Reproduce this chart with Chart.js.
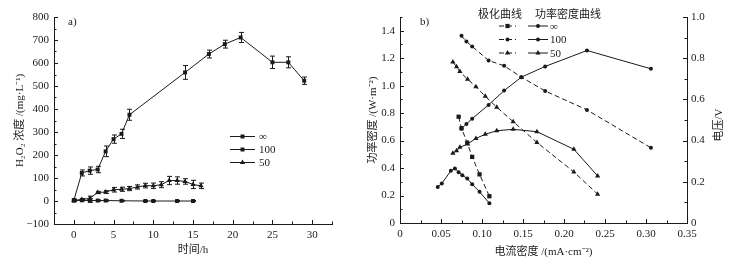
<!DOCTYPE html>
<html>
<head>
<meta charset="utf-8">
<script src="https://cdn.jsdelivr.net/npm/chart.js@4.4.1/dist/chart.umd.min.js"></script>
<style>
html, body { margin: 0; padding: 0; background: #fff; }
#wrap { position: relative; width: 735px; height: 264px; }
canvas { position: absolute; top: 0; }
</style>
</head>
<body>
<div id="wrap">
  <canvas id="chartA" width="367" height="264" style="left:0"></canvas>
  <canvas id="chartB" width="368" height="264" style="left:367px"></canvas>
</div>
<script>
// a) H2O2 concentration vs time (mg/L), error bars
const timeInf = [0, 1, 2, 3, 4, 5, 6, 7, 14, 17, 19, 21, 25, 27, 29];
const concInf = [3, 122, 132, 137, 216, 269, 292, 375, 559, 639, 682, 711, 603, 603, 523];
const errInf  = [6, 13, 16, 14, 23, 18, 20, 24, 30, 17, 17, 22, 27, 24, 16];

const time100 = [0, 1, 2, 3, 4, 6, 9, 10, 13, 15];
const conc100 = [2, 3, 2, 2, 2, 1, 0, 0, 0, 0];
const err100  = [3, 3, 8, 3, 3, 2, 2, 2, 2, 2];

const time50 = [0, 1, 2, 3, 4, 5, 6, 7, 8, 9, 10, 11, 12, 13, 14, 15, 16];
const conc50 = [2, 7, 11, 37, 39, 49, 51, 54, 61, 67, 66, 71, 89, 89, 85, 72, 66];
const err50  = [3, 4, 10, 5, 6, 10, 9, 9, 9, 10, 12, 13, 18, 16, 12, 18, 12];

// b) current density (mA/cm2) vs power density (W/m2) and voltage (V)
const currInf  = [0.046, 0.051, 0.062, 0.067, 0.0715, 0.076, 0.082, 0.088, 0.097, 0.109];
const powerInf = [0.263, 0.288, 0.380, 0.397, 0.370, 0.348, 0.324, 0.283, 0.227, 0.144];
const vCurrInf = [0.0715, 0.075, 0.082, 0.088, 0.097, 0.109];
const voltInf  = [0.516, 0.460, 0.390, 0.321, 0.236, 0.130];

const curr100  = [0.075, 0.081, 0.088, 0.108, 0.127, 0.148, 0.177, 0.228, 0.306];
const power100 = [0.687, 0.721, 0.760, 0.860, 0.964, 1.062, 1.140, 1.256, 1.123];
const volt100  = [0.909, 0.881, 0.857, 0.789, 0.763, 0.708, 0.641, 0.549, 0.365];

const curr50  = [0.0645, 0.069, 0.073, 0.0824, 0.0926, 0.104, 0.118, 0.138, 0.167, 0.212, 0.241];
const power50 = [0.507, 0.526, 0.551, 0.575, 0.616, 0.646, 0.672, 0.682, 0.665, 0.537, 0.343];
const volt50  = [0.781, 0.758, 0.735, 0.698, 0.662, 0.615, 0.562, 0.492, 0.391, 0.248, 0.140];

const INK = '#1a1a1a';
const FONT = "'Liberation Serif', 'Noto Sans CJK SC', serif";

function pts(xs, ys) {
    return xs.map((x, i) => ({ x: x, y: ys[i] }));
}

// inward tick marks, long where a label is shown
const inwardTicks = {
    id: 'inwardTicks',
    afterDraw(chart) {
        const ctx = chart.ctx;
        ctx.save();
        ctx.strokeStyle = INK;
        ctx.lineWidth = 1;
        Object.values(chart.scales).forEach(scale => {
            scale.ticks.forEach(t => {
                const len = t.label !== '' ? 4 : 2.5;
                const p = Math.round(scale.getPixelForValue(t.value)) + 0.5;
                ctx.beginPath();
                if (scale.axis === 'x') {
                    ctx.moveTo(p, scale.top);
                    ctx.lineTo(p, scale.top - len);
                } else if (scale.position === 'left') {
                    ctx.moveTo(scale.right, p);
                    ctx.lineTo(scale.right + len, p);
                } else {
                    ctx.moveTo(scale.left, p);
                    ctx.lineTo(scale.left - len, p);
                }
                ctx.stroke();
            });
        });
        ctx.restore();
    }
};

const errorBars = {
    id: 'errorBars',
    afterDatasetsDraw(chart) {
        const { ctx, scales: { x, y } } = chart;
        ctx.save();
        ctx.strokeStyle = INK;
        ctx.lineWidth = 1;
        chart.data.datasets.forEach(ds => {
            if (!ds.err) return;
            ds.data.forEach((p, i) => {
                const e = ds.err[i];
                const px = Math.round(x.getPixelForValue(p.x)) + 0.5;
                const top = y.getPixelForValue(p.y + e);
                const bot = y.getPixelForValue(p.y - e);
                ctx.beginPath();
                ctx.moveTo(px, top); ctx.lineTo(px, bot);
                ctx.moveTo(px - 2.5, top); ctx.lineTo(px + 2.5, top);
                ctx.moveTo(px - 2.5, bot); ctx.lineTo(px + 2.5, bot);
                ctx.stroke();
            });
        });
        ctx.restore();
    }
};

function sample(ctx, x1, x2, y, dash, style, r) {
    ctx.save();
    ctx.strokeStyle = INK;
    ctx.fillStyle = INK;
    ctx.lineWidth = 1;
    ctx.setLineDash(dash);
    ctx.beginPath();
    ctx.moveTo(x1, y);
    ctx.lineTo(x2, y);
    ctx.stroke();
    ctx.setLineDash([]);
    Chart.helpers.drawPoint(ctx, { pointStyle: style, radius: r, borderWidth: 0 }, (x1 + x2) / 2, y);
    ctx.restore();
}

const legendA = {
    id: 'legendA',
    afterDraw(chart) {
        const ctx = chart.ctx;
        ctx.save();
        ctx.font = '11px ' + FONT;
        ctx.fillStyle = INK;
        ctx.textBaseline = 'middle';
        ctx.fillText('a)', 68, 22);
        const rows = [['\u221e', 'rect', 2.8, 136], ['100', 'rect', 2.8, 149], ['50', 'triangle', 3, 162]];
        rows.forEach(r => {
            sample(ctx, 230, 255, r[3] + 0.5, [], r[1], r[2]);
            ctx.fillText(r[0], 259, r[3] + 1);
        });
        ctx.restore();
    }
};

const legendB = {
    id: 'legendB',
    afterDraw(chart) {
        const ctx = chart.ctx;
        ctx.save();
        ctx.font = '11px ' + FONT;
        ctx.fillStyle = INK;
        ctx.textBaseline = 'middle';
        ctx.fillText('b)', 53, 22);
        ctx.textAlign = 'center';
        ctx.fillText('极化曲线', 133, 15);
        ctx.fillText('功率密度曲线', 201, 15);
        ctx.textAlign = 'left';
        const rows = [['\u221e', 'rect', 'circle', 26], ['100', 'circle', 'circle', 39.5], ['50', 'triangle', 'triangle', 53]];
        rows.forEach(r => {
            sample(ctx, 132, 149, r[3], [5, 3], r[1], r[1] === 'circle' ? 2 : 3);
            sample(ctx, 161, 181, r[3], [], r[2], r[2] === 'circle' ? 2 : 3);
            ctx.fillText(r[0], 183, r[3] + 1);
        });
        // right axis title, read bottom to top like the left one
        ctx.translate(352, 125);
        ctx.rotate(-Math.PI / 2);
        ctx.textAlign = 'center';
        ctx.fillText('电压/V', 0, 0);
        ctx.restore();
    }
};

function lineSet(data, style, radius, dash, axis) {
    return {
        data: data,
        yAxisID: axis || 'y',
        borderColor: INK,
        backgroundColor: INK,
        borderWidth: 1,
        borderDash: dash || [],
        pointStyle: style,
        pointRadius: radius,
        pointBackgroundColor: INK,
        pointBorderWidth: 0,
        tension: 0
    };
}

function axisBase() {
    return {
        type: 'linear',
        grid: { display: false, drawTicks: false },
        border: { display: true, color: INK, width: 1 },
        ticks: { color: INK, font: { family: FONT, size: 11 }, autoSkip: false, maxRotation: 0 }
    };
}

// chart a
const ax = axisBase();
ax.min = -2.5; ax.max = 32.5;
ax.ticks.stepSize = 2.5;
ax.ticks.padding = 5;
ax.ticks.callback = v => { const k = Math.round(v / 2.5); return k % 2 === 0 ? String(k * 2.5) : ''; };
ax.title = { display: true, text: '时间/h', color: INK, font: { family: FONT, size: 11 }, padding: { top: 0, bottom: 7 } };
ax.afterFit = s => { s.height = 40; };

const ay = axisBase();
ay.min = -100; ay.max = 800;
ay.ticks.stepSize = 50;
ay.ticks.padding = 5;
ay.ticks.callback = v => {
    const k = Math.round(v / 50);
    if (k % 2 !== 0) return '';
    return k < 0 ? '\u2212' + (-k * 50) : String(k * 50);
};
ay.title = { display: true, text: 'H\u2082O\u2082 浓度 /(mg·L\u207b\u00b9)', color: INK, font: { family: FONT, size: 11 }, padding: { top: 14, bottom: 0 } };
ay.afterFit = s => { s.width = 54; };

const dsA = [
    lineSet(pts(timeInf, concInf), 'rect', 2.8),
    lineSet(pts(time100, conc100), 'rect', 2.8),
    lineSet(pts(time50, conc50), 'triangle', 3)
];
dsA[0].err = errInf;
dsA[1].err = err100;
dsA[2].err = err50;

new Chart(document.getElementById('chartA'), {
    type: 'line',
    data: { datasets: dsA },
    options: {
        responsive: false,
        animation: false,
        layout: { padding: { top: 17, right: 35, left: 0, bottom: 0 } },
        plugins: { legend: { display: false }, tooltip: { enabled: false } },
        scales: { x: ax, y: ay }
    },
    plugins: [errorBars, inwardTicks, legendA]
});

// chart b
const bx = axisBase();
bx.min = 0; bx.max = 0.35;
bx.ticks.stepSize = 0.025;
bx.ticks.padding = 5;
bx.ticks.callback = v => {
    const k = Math.round(v / 0.025);
    if (k % 2 !== 0) return '';
    return k === 0 ? '0' : (k * 0.025).toFixed(2);
};
bx.title = { display: true, text: '电流密度 /(mA·cm\u207b\u00b2)', color: INK, font: { family: FONT, size: 11 }, padding: { top: 0, bottom: 5 } };
bx.afterFit = s => { s.height = 41; };

const by = axisBase();
by.min = 0; by.max = 1.5;
by.ticks.stepSize = 0.1;
by.ticks.padding = 5;
by.ticks.callback = v => {
    const k = Math.round(v * 10);
    if (k % 2 !== 0 || k > 14) return '';
    return k === 0 ? '0' : (k / 10).toFixed(1);
};
by.title = { display: true, text: '功率密度 /(W·m\u207b\u00b2)', color: INK, font: { family: FONT, size: 11 }, padding: { top: 0, bottom: 0 } };
by.afterFit = s => { s.width = 33; };

const by2 = axisBase();
by2.position = 'right';
by2.min = 0; by2.max = 1.0;
by2.ticks.stepSize = 0.1;
by2.ticks.padding = 4;
by2.ticks.callback = v => {
    const k = Math.round(v * 10);
    if (k % 2 !== 0) return '';
    return k === 0 ? '0' : (k / 10).toFixed(1);
};
by2.afterFit = s => { s.width = 48; };

new Chart(document.getElementById('chartB'), {
    type: 'line',
    data: {
        datasets: [
            lineSet(pts(vCurrInf, voltInf), 'rect', 3, [5, 3], 'y2'),
            lineSet(pts(curr100, volt100), 'circle', 2, [5, 3], 'y2'),
            lineSet(pts(curr50, volt50), 'triangle', 3, [5, 3], 'y2'),
            lineSet(pts(currInf, powerInf), 'circle', 2),
            lineSet(pts(curr100, power100), 'circle', 2),
            lineSet(pts(curr50, power50), 'triangle', 3)
        ]
    },
    options: {
        responsive: false,
        animation: false,
        layout: { padding: { top: 17, right: 0, left: 0, bottom: 0 } },
        plugins: { legend: { display: false }, tooltip: { enabled: false } },
        scales: { x: bx, y: by, y2: by2 }
    },
    plugins: [inwardTicks, legendB]
});
</script>
</body>
</html>
